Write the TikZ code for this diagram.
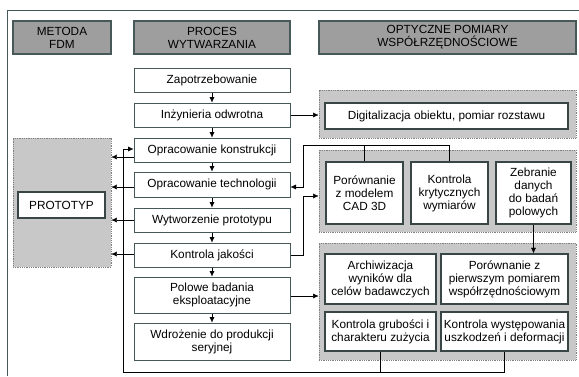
\documentclass[tikz,border=0pt]{standalone}
\usepackage{fontspec}
\setmainfont{Liberation Sans}
\usetikzlibrary{arrows.meta}

\definecolor{ramka}{RGB}{70,88,88}
\definecolor{naglowek}{RGB}{158,158,158}
\definecolor{grupa}{RGB}{200,200,200}

\tikzset{
    naglowekbox/.style={draw=ramka, line width=1.3pt, fill=naglowek, align=center, inner sep=1pt},
    procbox/.style={draw=ramka, line width=1pt, fill=white, align=center, inner sep=1pt, minimum width=156pt},
    grupabox/.style={draw=gray, densely dotted, line width=0.8pt, fill=grupa, inner sep=0pt},
    pomiarbox/.style={draw=ramka!80!black, line width=1.5pt, fill=white, align=center, inner sep=1pt},
}

\begin{document}
\begin{tikzpicture}[
    x=1pt, y=-1pt,
    >={Latex[length=5.5pt,width=5pt]}, % styl strzałek
    font=\fontsize{11.8}{13}\selectfont,
    ]
    \useasboundingbox (0,0) rectangle (579,376);

    % --- ramka zewnętrzna ---
    \draw[ramka, line width=0.8pt] (7,376) -- (7,10) -- (579,10);

    % --- nagłówki ---
    \node[naglowekbox, minimum width=98pt, minimum height=33pt] (fdm) at (62,37.5) {METODA\\FDM};
    \node[naglowekbox, minimum width=156pt, minimum height=33pt] (proces) at (212,37.5) {PROCES\\WYTWARZANIA};
    \node[naglowekbox, minimum width=257pt, minimum height=33pt] (opt) at (447.5,37.5) {OPTYCZNE POMIARY\\WSPÓŁRZĘDNOŚCIOWE};

    % --- proces wytwarzania ---
    \node[procbox, minimum height=24pt] (zap) at (212,80) {Zapotrzebowanie};
    \node[procbox, minimum height=24pt] (inz) at (212,115) {Inżynieria odwrotna};
    \node[procbox, minimum height=24pt] (kon) at (212,150) {Opracowanie konstrukcji};
    \node[procbox, minimum height=25pt] (tech) at (212,184.5) {Opracowanie technologii};
    \node[procbox, minimum height=24pt] (wyt) at (212,220) {Wytworzenie prototypu};
    \node[procbox, minimum height=24pt] (kj) at (212,255) {Kontrola jakości};
    \node[procbox, minimum height=36pt] (pol) at (212,295) {Polowe badania\\eksploatacyjne};
    \node[procbox, minimum height=37pt] (wdr) at (212,341.5) {Wdrożenie do produkcji\\seryjnej};

    % strzałki w dół
    \foreach \a/\b in {zap/inz, inz/kon, kon/tech, tech/wyt, wyt/kj, kj/pol, pol/wdr}
        \draw[->] (\a.south) -- (\b.north);

    % --- metoda FDM ---
    \node[grupabox, minimum width=98pt, minimum height=129pt] (pr) at (62,202.5) {};
    \node[pomiarbox, minimum width=87pt, minimum height=26pt] (proto) at (61.5,205) {PROTOTYP};

    \draw[->] ([yshift=-7pt]kon.west) -- ([yshift=-7pt]kon.west -| pr.east);
    \draw[->] ([yshift=-2.5pt]tech.west) -- ([yshift=-2.5pt]tech.west -| pr.east);
    \draw[->] (wyt.west) -- (wyt.west -| pr.east);
    \draw[->] ([yshift=1pt]kj.west) -- ([yshift=1pt]kj.west -| pr.east);

    % --- optyczne pomiary ---
    \node[grupabox, minimum width=257pt, minimum height=48pt] (g1) at (447.5,114) {};
    \node[pomiarbox, minimum width=243pt, minimum height=26pt] (dig) at (446.5,116) {Digitalizacja obiektu, pomiar rozstawu};

    \node[grupabox, minimum width=257pt, minimum height=82pt] (g2) at (447.5,191) {};
    \node[pomiarbox, minimum width=77pt, minimum height=62pt] (cad) at (364.5,193) {Porównanie\\z modelem\\CAD 3D};
    \node[pomiarbox, minimum width=77pt, minimum height=62pt] (kryt) at (449.5,193) {Kontrola\\krytycznych\\wymiarów};
    \node[pomiarbox, minimum width=75pt, minimum height=62pt] (zeb) at (533.5,193) {Zebranie\\danych\\do badań\\polowych};

    \node[grupabox, minimum width=257pt, minimum height=117pt] (g3) at (447.5,301.5) {};
    \node[pomiarbox, minimum width=111pt, minimum height=50pt] (arch) at (380.5,279) {Archiwizacja\\wyników dla\\celów badawczych};
    \node[pomiarbox, minimum width=127pt, minimum height=50pt] (por) at (504.5,279) {Porównanie z\\pierwszym pomiarem\\współrzędnościowym};
    \node[pomiarbox, minimum width=111pt, minimum height=39pt] (grub) at (380.5,331.5) {Kontrola grubości i\\charakteru zużycia};
    \node[pomiarbox, minimum width=127pt, minimum height=39pt] (wyst) at (504.5,331.5) {Kontrola występowania\\uszkodzeń i deformacji};

    % --- połączenia ---
    \coordinate (lg) at (303,145);
    \coordinate (lk) at (303,196);
    \coordinate (dol) at (123,372);

    \draw[->] (inz.east) -- (inz.east -| g1.west);
    \draw (cad.north) -- (cad.north |- lg);
    \draw[->] (kryt.north) |- (lg) |- ([yshift=-2.5pt]tech.east);
    \draw[->] (kj.east) -| (lk) -- (lk -| g2.west);
    \draw[->] ([yshift=-1pt]pol.east) -- ([yshift=-1pt]pol.east -| g3.west);
    \draw[->] (zeb.south) -- (zeb.south |- por.north);

    % sprzężenie zwrotne
    \draw (grub.south) -- (grub.south |- dol);
    \draw[->] (wyst.south) |- (dol) |- ([yshift=1pt]kon.west);

\end{tikzpicture}
\end{document}
